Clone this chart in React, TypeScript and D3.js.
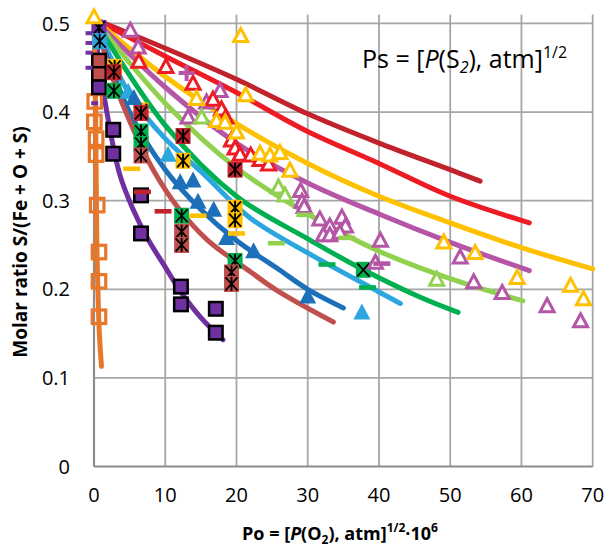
import React from 'react';
import * as d3 from 'd3';

type P = [number, number];

const xTicks = [0, 10, 20, 30, 40, 50, 60, 70];
const yTicks = [0, 0.1, 0.2, 0.3, 0.4, 0.5];
const yTickLabels = ['0', '0.1', '0.2', '0.3', '0.4', '0.5'];

// Model curves (one per Ps)
const curveDarkRed: P[] = [[0, 0.505], [10, 0.472], [20, 0.437], [30, 0.398], [40, 0.365], [50, 0.335], [54.2, 0.322]];
const curveRed: P[] = [[0, 0.505], [10, 0.463], [20, 0.422], [30, 0.378], [40, 0.342], [50, 0.305], [61.1, 0.275]];
const curveYellow: P[] = [[0, 0.505], [10, 0.44], [20, 0.387], [30, 0.342], [40, 0.305], [50, 0.275], [60, 0.247], [70, 0.223]];
const curveMagenta: P[] = [[0, 0.505], [10, 0.428], [20, 0.365], [30, 0.32], [40, 0.285], [50, 0.253], [61.1, 0.221]];
const curveLightGreen: P[] = [[0, 0.505], [10, 0.41], [20, 0.337], [30, 0.285], [40, 0.243], [50, 0.212], [60.2, 0.187]];
const curveGreen: P[] = [[0, 0.505], [10, 0.385], [20, 0.305], [30, 0.257], [37.8, 0.222], [45.8, 0.191], [51.1, 0.174]];
const curveLightBlue: P[] = [[0, 0.505], [5, 0.42], [10, 0.37], [15, 0.333], [22, 0.28], [30, 0.241], [40, 0.197], [43, 0.184]];
const curveBlue: P[] = [[0, 0.505], [5, 0.4], [10, 0.335], [15, 0.29], [20, 0.255], [26, 0.222], [30, 0.2], [35, 0.179]];
const curveBrown: P[] = [[0, 0.505], [3, 0.43], [5, 0.39], [8.3, 0.335], [12, 0.29], [16, 0.255], [21.9, 0.22], [26, 0.197], [33.6, 0.163]];
const curvePurple: P[] = [[0, 0.505], [0.8, 0.45], [1.8, 0.4], [3.6, 0.33], [5.5, 0.29], [7.4, 0.259], [10, 0.225], [12.1, 0.198], [15, 0.168], [18.1, 0.143]];
const curveOrange: P[] = [[0, 0.505], [0.1, 0.46], [0.2, 0.42], [0.3, 0.33], [0.4, 0.25], [0.55, 0.2], [0.75, 0.15], [1.05, 0.113]];

// Experimental points
const orangeSquares: P[] = [[0.1, 0.412], [0.05, 0.389], [0.3, 0.37], [0.3, 0.352], [0.45, 0.295], [0.7, 0.242], [0.7, 0.209], [0.7, 0.169]];
const purpleSquares: P[] = [[0.7, 0.428], [2.7, 0.38], [2.7, 0.353], [6.6, 0.306], [6.6, 0.263], [12.2, 0.203], [12.2, 0.183], [17.1, 0.178], [17.1, 0.151]];
const brownSquares: P[] = [[0.7, 0.458], [0.7, 0.443]];
const purpleDashes: P[] = [[-0.7, 0.489], [-0.7, 0.478], [-0.7, 0.467], [-0.7, 0.45], [0.1, 0.41]];

const purpleStars: P[] = [[0.7, 0.495]];
const blueStars: P[] = [[0.8, 0.48]];
const yellowStars: P[] = [[2.9, 0.451], [6.6, 0.402], [12.5, 0.345], [19.8, 0.292], [19.8, 0.278]];
const redStars: P[] = [[2.8, 0.445], [6.6, 0.399], [12.5, 0.373], [19.8, 0.335]];
const greenStars: P[] = [[2.8, 0.424], [6.6, 0.378], [6.6, 0.364], [12.3, 0.283], [19.8, 0.232]];
const brownStars: P[] = [[6.6, 0.351], [12.3, 0.265], [12.3, 0.25], [19.3, 0.219], [19.3, 0.206]];
const greenCrosses: P[] = [[37.8, 0.222]];

const blueTriangles: P[] = [[5.6, 0.417], [12.1, 0.322], [13.9, 0.324], [14.6, 0.3], [16.8, 0.291], [18.6, 0.259], [22.4, 0.244], [30, 0.193]];
const lightBlueTriangles: P[] = [[4.8, 0.424], [10.4, 0.353], [37.6, 0.175]];

const yellowTriangles: P[] = [[0, 0.508], [20.6, 0.487], [21.3, 0.42], [14.4, 0.416], [17.2, 0.391], [18.4, 0.389], [20, 0.378], [23.3, 0.354], [24.7, 0.352], [26.1, 0.355], [27.5, 0.335], [49.1, 0.254], [53.5, 0.242], [59.4, 0.214], [66.9, 0.205], [68.7, 0.19]];
const redTriangles: P[] = [[6.3, 0.458], [10.1, 0.452], [13.9, 0.433], [16.7, 0.415], [17.9, 0.404], [18.5, 0.395], [19.3, 0.369], [19.8, 0.36], [20.5, 0.353], [22, 0.352], [23.3, 0.347], [24.5, 0.342]];
const magentaTriangles: P[] = [[5.1, 0.493], [6.2, 0.474], [13.2, 0.395], [15.8, 0.412], [17.7, 0.425], [29.0, 0.312], [29.2, 0.3], [29.5, 0.294], [31.7, 0.28], [33.1, 0.272], [34.8, 0.282], [35.3, 0.272], [32.2, 0.262], [33.1, 0.262], [34.5, 0.265], [40.2, 0.256], [39.5, 0.231], [51.4, 0.237], [53.3, 0.209], [57.3, 0.197], [63.6, 0.182], [68.3, 0.165]];
const lightGreenTriangles: P[] = [[15.1, 0.395], [25.9, 0.316], [26.8, 0.307], [48.1, 0.212]];

const yellowDashes: P[] = [[5.3, 0.336], [14.6, 0.283], [20, 0.263]];
const darkRedDashes: P[] = [[6.8, 0.31], [9.7, 0.288]];
const lightGreenDashes: P[] = [[25.6, 0.252], [29.6, 0.284], [35.5, 0.258]];
const greenDashes: P[] = [[32.7, 0.228], [38.4, 0.202]];
const magentaDashes: P[] = [[40.4, 0.229]];
const magentaPluses: P[] = [[13, 0.444]];

const C = {
  darkRed: '#C0232B',
  red: '#ED1C24',
  yellow: '#FFC000',
  magenta: '#B455A6',
  lightGreen: '#92D050',
  green: '#00B050',
  lightBlue: '#2BA6DE',
  blue: '#1C6FB8',
  brown: '#C0504D',
  purple: '#7030A0',
  orange: '#E8772A',
};

const curves: { data: P[]; color: string }[] = [
  { data: curveDarkRed, color: C.darkRed },
  { data: curveRed, color: C.red },
  { data: curveYellow, color: C.yellow },
  { data: curveMagenta, color: C.magenta },
  { data: curveLightGreen, color: C.lightGreen },
  { data: curveGreen, color: C.green },
  { data: curveLightBlue, color: C.lightBlue },
  { data: curveBlue, color: C.blue },
  { data: curveBrown, color: C.brown },
  { data: curvePurple, color: C.purple },
  { data: curveOrange, color: C.orange },
];

export default function App() {
  const W = 606, H = 553;
  const x = d3.scaleLinear().domain([0, 70]).range([94, 592.7]);
  const y = d3.scaleLinear().domain([0, 0.51]).range([466.5, 14.6]);
  const line = d3.line<P>().x(d => x(d[0])).y(d => y(d[1])).curve(d3.curveCatmullRom.alpha(0.5));
  const top = y(0.51);
  const font = "'Open Sans', 'DejaVu Sans', sans-serif";

  const square = (pts: P[], fill: string, stroke: string, sw: number, s: number, key: string) =>
    pts.map((d, i) => (
      <rect key={key + i} x={x(d[0]) - s / 2} y={y(d[1]) - s / 2} width={s} height={s} fill={fill} stroke={stroke} strokeWidth={sw} />
    ));
  const tri = (pts: P[], fill: string, stroke: string, sw: number, w: number, h: number, key: string) =>
    pts.map((d, i) => {
      const cx = x(d[0]), cy = y(d[1]);
      return (
        <path key={key + i} d={`M${cx},${cy - h / 2}L${cx + w / 2},${cy + h / 2}L${cx - w / 2},${cy + h / 2}Z`} fill={fill} stroke={stroke} strokeWidth={sw} strokeLinejoin="miter" />
      );
    });
  const dash = (pts: P[], color: string, key: string, w = 17, h = 4.6) =>
    pts.map((d, i) => (
      <rect key={key + i} x={x(d[0]) - w / 2} y={y(d[1]) - h / 2} width={w} height={h} fill={color} />
    ));
  const star = (pts: P[], fill: string, key: string, cross = false) =>
    pts.map((d, i) => {
      const cx = x(d[0]), cy = y(d[1]);
      const w = 15, h = 16, a = 6, b = 6.5;
      return (
        <g key={key + i}>
          <rect x={cx - w / 2} y={cy - h / 2} width={w} height={h} fill={fill} />
          <path d={`M${cx - a},${cy - b}L${cx + a},${cy + b}M${cx + a},${cy - b}L${cx - a},${cy + b}` + (cross ? '' : `M${cx},${cy - b - 0.5}L${cx},${cy + b + 0.5}`)} stroke="#000" strokeWidth={1.8} fill="none" />
        </g>
      );
    });
  const plus = (pts: P[], color: string, key: string) =>
    pts.map((d, i) => {
      const cx = x(d[0]), cy = y(d[1]);
      return <path key={key + i} d={`M${cx - 8},${cy}H${cx + 8}M${cx},${cy - 8}V${cy + 8}`} stroke={color} strokeWidth={4} />;
    });

  return (
    <svg width={W} height={H} style={{ position: 'absolute', left: 0, top: 0, background: '#fff' }} fontFamily={font}>
      <rect width={W} height={H} fill="#fff" />
      {/* gridlines */}
      {xTicks.slice(1).map(t => (
        <line key={'gx' + t} x1={x(t)} x2={x(t)} y1={top} y2={y(0)} stroke="#A6A6A6" strokeWidth={1.8} />
      ))}
      {yTicks.slice(1).map(t => (
        <line key={'gy' + t} x1={x(0)} x2={x(70)} y1={y(t)} y2={y(t)} stroke="#A6A6A6" strokeWidth={1.8} />
      ))}
      {/* axes */}
      <line x1={x(0)} x2={x(70)} y1={y(0)} y2={y(0)} stroke="#8C8C8C" strokeWidth={2.2} />
      <line x1={x(0)} x2={x(0)} y1={top} y2={y(0)} stroke="#8C8C8C" strokeWidth={2.2} />
      {/* tick labels */}
      {yTicks.map((t, i) => (
        <text key={'yl' + t} x={70} y={y(t)} dy="0.36em" textAnchor="end" fontSize={20} fill="#000">{yTickLabels[i]}</text>
      ))}
      {xTicks.map(t => (
        <text key={'xl' + t} x={x(t)} y={502} textAnchor="middle" fontSize={20} fill="#000">{t}</text>
      ))}
      {/* curves */}
      {curves.map((c, i) => (
        <path key={'c' + i} d={line(c.data) || ''} fill="none" stroke={c.color} strokeWidth={5} strokeLinecap="round" />
      ))}
      {/* markers */}
      {square(orangeSquares, 'none', C.orange, 3.2, 13.5, 'os')}
      {square(brownSquares, C.brown, '#000', 2.5, 13.5, 'bs')}
      {square(purpleSquares, C.purple, '#000', 2.5, 13.5, 'ps')}
      {dash(purpleDashes, C.purple, 'pd', 7, 4)}
      {star(purpleStars, C.purple, 'pst')}
      {star(blueStars, C.lightBlue, 'bst')}
      {star(yellowStars, C.yellow, 'yst')}
      {star(redStars, C.darkRed, 'rst')}
      {star(greenStars, C.green, 'gst')}
      {star(brownStars, C.brown, 'brst')}
      {star(greenCrosses, C.green, 'gx', true)}
      {tri(lightBlueTriangles, C.lightBlue, 'none', 0, 17, 16, 'lbt')}
      {tri(blueTriangles, C.blue, 'none', 0, 17, 16, 'bt')}
      {tri(magentaTriangles, '#fff', C.magenta, 3, 14, 13, 'mt')}
      {tri(lightGreenTriangles, '#fff', C.lightGreen, 3, 14, 13, 'lgt')}
      {tri(redTriangles, '#fff', C.red, 3, 14, 13, 'rt')}
      {tri(yellowTriangles, '#fff', C.yellow, 3, 14, 13, 'yt')}
      {dash(yellowDashes, C.yellow, 'yd')}
      {dash(darkRedDashes, C.darkRed, 'rd')}
      {dash(lightGreenDashes, C.lightGreen, 'lgd')}
      {dash(greenDashes, C.green, 'gd')}
      {dash(magentaDashes, C.magenta, 'md')}
      {plus(magentaPluses, C.magenta, 'mp')}
      {/* annotation */}
      <text x={362} y={68} fontSize={25} fill="#000">
        <tspan>Ps = [</tspan>
        <tspan fontStyle="italic">P</tspan>
        <tspan>(S</tspan>
        <tspan fontSize={16} dy={5} fontStyle="italic">2</tspan>
        <tspan dy={-5}>), atm]</tspan>
        <tspan fontSize={16} dy={-10}>1/2</tspan>
      </text>
      {/* axis titles */}
      <text transform={`translate(20,242) rotate(-90)`} textAnchor="middle" fontSize={19} fontWeight="bold" fill="#000" dy="0.35em">
        Molar ratio S/(Fe + O + S)
      </text>
      <text x={340} y={540} textAnchor="middle" fontSize={18} fontWeight="bold" fill="#000">
        <tspan>Po = [</tspan>
        <tspan fontStyle="italic">P</tspan>
        <tspan>(O</tspan>
        <tspan fontSize={12} dy={4}>2</tspan>
        <tspan dy={-4}>), atm]</tspan>
        <tspan fontSize={12} dy={-8}>1/2</tspan>
        <tspan dy={8}>·10</tspan>
        <tspan fontSize={12} dy={-8}>6</tspan>
      </text>
    </svg>
  );
}
